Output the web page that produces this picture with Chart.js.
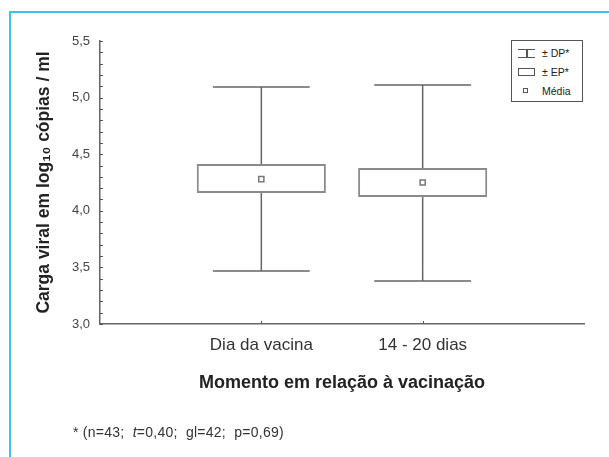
<!DOCTYPE html>
<html>
<head>
<meta charset="utf-8">
<script src="https://cdn.jsdelivr.net/npm/chart.js@4/dist/chart.umd.min.js"></script>
<style>
  body { margin: 0; background: #fff; font-family: "Liberation Sans", Arial, sans-serif; }
  #wrap { position: relative; width: 609px; height: 457px; overflow: hidden; }
  #frameTop { position: absolute; left: 10px; top: 11px; width: 599px; height: 2px; background: #3fc1ef; }
  #frameLeft { position: absolute; left: 9px; top: 11px; width: 2px; height: 446px; background: #3fc1ef; }
  canvas { position: absolute; left: 0; top: 0; }
  #legend { position: absolute; left: 511px; top: 40px; width: 70px; height: 60px; border: 1.5px solid #555; background: #fff; font-size: 10.5px; color: #222; }
  .row { position: absolute; left: 0; height: 12px; }
  .row span { position: absolute; left: 30px; top: 0; line-height: 12px; white-space: nowrap; }
  #footnote { position: absolute; left: 73px; top: 424px; font-size: 14px; letter-spacing: 0.25px; color: #333; white-space: pre; }
</style>
</head>
<body>
<div id="wrap">
  <div id="frameTop"></div>
  <div id="frameLeft"></div>
  <canvas id="chart" width="609" height="457"></canvas>
  <div id="legend">
    <div class="row" style="top:6px;width:70px">
      <div style="position:absolute;left:6px;top:2px;width:17px;height:9px;border-top:1.5px solid #555;border-bottom:1.5px solid #555;box-sizing:border-box"></div>
      <div style="position:absolute;left:14px;top:2px;width:1.5px;height:9px;background:#555"></div>
      <span>± DP*</span>
    </div>
    <div class="row" style="top:25px;width:70px">
      <div style="position:absolute;left:6px;top:2px;width:17px;height:8px;border:1.2px solid #555;box-sizing:border-box"></div>
      <span>± EP*</span>
    </div>
    <div class="row" style="top:44px;width:70px">
      <div style="position:absolute;left:11px;top:3px;width:5px;height:5px;border:1.2px solid #555;box-sizing:border-box"></div>
      <span>Média</span>
    </div>
  </div>
  <div id="footnote">* (n=43;  <i>t</i>=0,40;  gl=42;  p=0,69)</div>
</div>
<script>
const categories = ["Dia da vacina", "14 - 20 dias"];
const means = [4.28, 4.25];
const seLow = [4.157, 4.122];
const seHigh = [4.413, 4.378];
const sdLow = [3.468, 3.38];
const sdHigh = [5.094, 5.111];
const yTicks = [3.0, 3.5, 4.0, 4.5, 5.0, 5.5];

const capHalf = 0.3;
const gray = "#666";

// stems and caps, broken with nulls
const whiskerPts = [];
categories.forEach((c, i) => {
  const x = i + 1;
  whiskerPts.push({ x: x, y: sdLow[i] }, { x: x, y: sdHigh[i] }, { x: x, y: null });
  whiskerPts.push({ x: x - capHalf, y: sdHigh[i] }, { x: x + capHalf, y: sdHigh[i] }, { x: x, y: null });
  whiskerPts.push({ x: x - capHalf, y: sdLow[i] }, { x: x + capHalf, y: sdLow[i] }, { x: x, y: null });
});

// small inward ticks like the original
const innerTicks = {
  id: "innerTicks",
  afterDraw(chart) {
    const ctx = chart.ctx;
    const xs = chart.scales.x, ys = chart.scales.y;
    ctx.save();
    ctx.strokeStyle = "#555";
    ctx.lineWidth = 1;
    for (let v = 30; v <= 55; v++) {
      const y = Math.round(ys.getPixelForValue(v / 10)) + 0.5;
      ctx.beginPath();
      ctx.moveTo(xs.left, y);
      ctx.lineTo(xs.left + 3, y);
      ctx.stroke();
    }
    categories.forEach((c, i) => {
      const x = Math.round(xs.getPixelForValue(i + 1)) + 0.5;
      ctx.beginPath();
      ctx.moveTo(x, ys.bottom);
      ctx.lineTo(x, ys.bottom - 3);
      ctx.stroke();
    });
    ctx.restore();
  }
};

new Chart(document.getElementById("chart"), {
  type: "bar",
  data: {
    datasets: [
      {
        type: "line",
        data: whiskerPts,
        borderColor: gray,
        borderWidth: 1.5,
        pointRadius: 0,
        spanGaps: false,
        order: 3
      },
      {
        type: "bar",
        data: categories.map((c, i) => ({ x: i + 1, y: [seLow[i], seHigh[i]] })),
        backgroundColor: "#fff",
        borderColor: "#8a8a8a",
        borderWidth: 2,
        borderSkipped: false,
        barPercentage: 0.8,
        categoryPercentage: 1,
        order: 2
      },
      {
        type: "scatter",
        data: categories.map((c, i) => ({ x: i + 1, y: means[i] })),
        pointStyle: "rect",
        pointRadius: 3.6,
        backgroundColor: "#fff",
        borderColor: "#777",
        borderWidth: 1.5,
        order: 1
      }
    ]
  },
  options: {
    responsive: false,
    animation: false,
    layout: { padding: { left: 0, top: 41, right: 25, bottom: 0 } },
    plugins: { legend: { display: false }, tooltip: { enabled: false } },
    scales: {
      x: {
        type: "linear",
        min: 0,
        max: 3,
        offset: false,
        afterFit: s => { s.height = 133; },
        afterBuildTicks: s => { s.ticks = categories.map((c, i) => ({ value: i + 1 })); },
        grid: { display: false },
        border: { display: true, color: "#666", width: 1.5 },
        ticks: {
          padding: 3,
          color: "#333",
          font: { size: 17, family: "Liberation Sans" },
          callback: v => categories[v - 1] || ""
        },
        title: {
          display: true,
          text: "Momento em relação à vacinação",
          color: "#222",
          font: { size: 18, weight: "bold", family: "Liberation Sans" },
          padding: { top: 0, bottom: 63 }
        }
      },
      y: {
        type: "linear",
        min: 3,
        max: 5.5,
        afterFit: s => { s.width = 100; },
        afterBuildTicks: s => { s.ticks = yTicks.map(v => ({ value: v })); },
        grid: { display: false },
        border: { display: true, color: "#666", width: 1.5 },
        ticks: {
          padding: 2,
          color: "#444",
          font: { size: 13, family: "Liberation Sans" },
          callback: v => v.toFixed(1).replace(".", ",")
        },
        title: {
          display: true,
          text: "Carga viral em log₁₀ cópias / ml",
          color: "#222",
          font: { size: 17.5, weight: "bold", family: "Liberation Sans" },
          padding: { top: 34, bottom: 0 }
        }
      }
    }
  },
  plugins: [innerTicks]
});
</script>
</body>
</html>
